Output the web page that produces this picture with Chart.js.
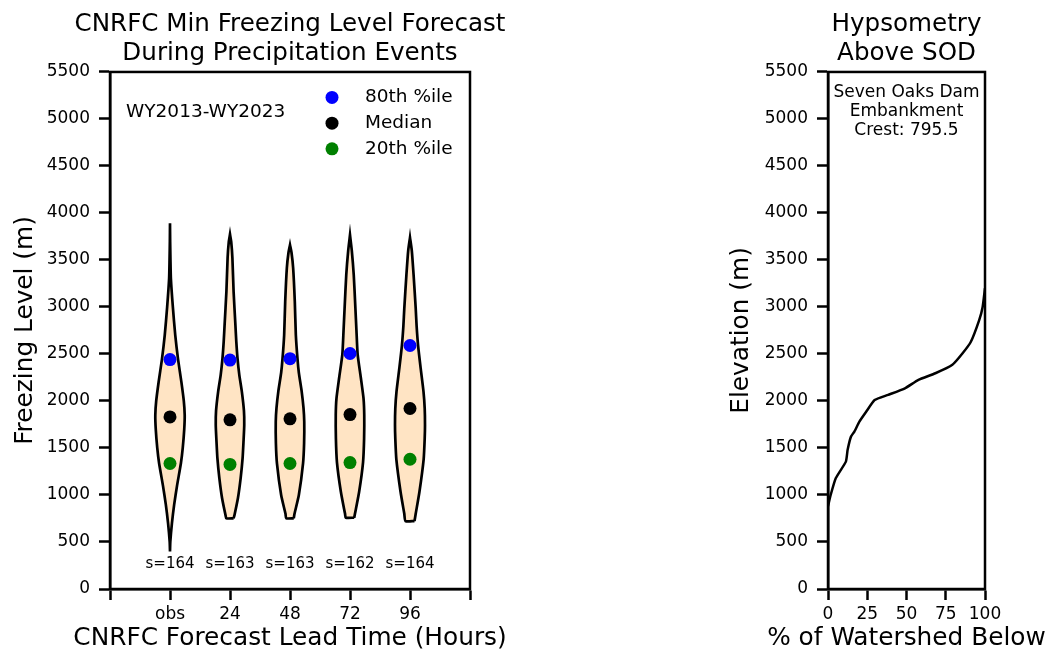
<!DOCTYPE html>
<html>
<head>
<meta charset="utf-8">
<script src="https://cdn.jsdelivr.net/npm/chart.js@4"></script>
<style>
body { margin: 0; overflow: hidden; background: #fff; }
canvas { position: absolute; top: 0; }
#freezeChart { left: 0; }
#hypsoChart { left: 715px; }
</style>
</head>
<body>
<canvas id="freezeChart" width="580" height="653"></canvas>
<canvas id="hypsoChart" width="383" height="653"></canvas>
<script>
const leadTimes = ['obs', '24', '48', '72', '96'];
const sampleSizes = [164, 163, 163, 162, 164];
const pct80 = [2440, 2435, 2450, 2505, 2590];
const medians = [1830, 1800, 1810, 1855, 1920];
const pct20 = [1335, 1325, 1335, 1345, 1380];

// violin outlines: elevation levels (m) and relative density at each level
const violinLevels = [
  [400, 500, 700, 900, 1100, 1340, 1500, 1700, 1850, 2000, 2200, 2440, 2700, 3000, 3300, 3500, 3700, 3890],
  [752, 787, 968, 1180, 1393, 1567, 1745, 1894, 2099, 2277, 2457, 2631, 2809, 3163, 3521, 3695, 3773],
  [752, 800, 1000, 1337, 1550, 1780, 1926, 2100, 2300, 2447, 2700, 3057, 3415, 3580, 3660],
  [759, 800, 1035, 1348, 1600, 1850, 2030, 2250, 2497, 2750, 2986, 3340, 3600, 3766],
  [723, 800, 1035, 1380, 1600, 1745, 1922, 2100, 2350, 2589, 2800, 2986, 3340, 3600, 3738]
];
const violinDensity = [
  [0, 0.02, 0.13, 0.28, 0.47, 0.73, 0.85, 0.95, 0.98, 0.92, 0.76, 0.54, 0.35, 0.19, 0.06, 0.03, 0.01, 0],
  [0.24, 0.30, 0.53, 0.71, 0.84, 0.90, 0.95, 0.93, 0.79, 0.62, 0.50, 0.42, 0.36, 0.24, 0.16, 0.08, 0],
  [0.25, 0.30, 0.59, 0.87, 0.94, 0.95, 0.90, 0.78, 0.59, 0.50, 0.39, 0.32, 0.21, 0.10, 0],
  [0.28, 0.33, 0.61, 0.87, 0.94, 0.95, 0.90, 0.72, 0.51, 0.43, 0.36, 0.25, 0.12, 0],
  [0.30, 0.38, 0.63, 0.91, 0.98, 1.0, 0.98, 0.90, 0.71, 0.54, 0.44, 0.38, 0.24, 0.12, 0]
];

// hypsometric curve above Seven Oaks Dam
const hypsoPct = [0, 1.7, 5, 11.4, 12.5, 14.6, 16.8, 20, 24.3, 29.7, 38.3, 49, 57.6, 68.4, 79.2, 85.6, 91, 96.3, 98.5, 100];
const hypsoElev = [880, 1000, 1180, 1355, 1480, 1620, 1675, 1780, 1885, 2010, 2065, 2135, 2225, 2295, 2385, 2505, 2630, 2860, 3000, 3200];

const elevTicks = { min: 0, max: 5500, step: 500 };

Chart.defaults.font.family = '"DejaVu Sans", sans-serif';
Chart.defaults.color = '#000';

const HALF_WIDTH = 0.25;

function violinOutline(i) {
  const pos = i + 1;
  const lv = violinLevels[i], d = violinDensity[i];
  const right = lv.map((y, k) => ({ x: pos + d[k] * HALF_WIDTH, y: y }));
  const left = lv.map((y, k) => ({ x: pos - d[k] * HALF_WIDTH, y: y })).reverse();
  return right.concat(left, [right[0]]);
}

function dots(label, values, color) {
  return {
    label: label,
    data: values.map((v, i) => ({ x: i + 1, y: v })),
    showLine: false,
    pointRadius: 6.5,
    pointHoverRadius: 6.5,
    pointBackgroundColor: color,
    pointBorderWidth: 0,
    borderColor: color,
    order: 0
  };
}

const frame = {
  id: 'frame',
  afterDatasetsDraw(chart) {
    const { ctx, chartArea: a } = chart;
    ctx.save();
    ctx.lineWidth = 2.5;
    ctx.strokeStyle = '#000';
    ctx.strokeRect(a.left, a.top, a.right - a.left, a.bottom - a.top);
    ctx.restore();
  }
};

// bottom axis title drawn by hand so Chart.js does not squeeze it to the plot width
function xTitle(text) {
  return {
    id: 'xTitle',
    afterDraw(chart) {
      const { ctx, chartArea: a } = chart;
      ctx.save();
      ctx.font = '24.8px "DejaVu Sans"';
      ctx.fillStyle = '#000';
      ctx.textAlign = 'center';
      ctx.textBaseline = 'middle';
      ctx.fillText(text, (a.left + a.right) / 2, chart.height - 14.4);
      ctx.restore();
    }
  };
}

function axisStyle(extra) {
  return Object.assign({
    type: 'linear',
    grid: { drawOnChartArea: false, drawTicks: true, tickLength: 11, tickWidth: 2.5, tickColor: '#000' },
    border: { display: true, color: '#000', width: 2.5 },
  }, extra);
}

function yAxis(text, width, titlePad) {
  return axisStyle({
    min: elevTicks.min,
    max: elevTicks.max,
    ticks: { stepSize: elevTicks.step, autoSkip: false, padding: 9, font: { size: 17 }, callback: v => String(v) },
    title: { display: true, text: text, font: { size: 24.8 }, padding: { top: titlePad, bottom: 0 } },
    afterFit: s => { s.width = width; }
  });
}

// empty right-hand box so the title stays centred over the plot
function spacer(width) {
  return {
    type: 'linear', position: 'right', display: true, min: 0, max: 1,
    ticks: { display: false }, grid: { display: false }, border: { display: false },
    afterFit: s => { s.width = width; }
  };
}

function titleOpts(lines) {
  return {
    display: true,
    text: lines,
    font: { size: 24.6, weight: 'normal', lineHeight: 1.17 },
    padding: { top: 10, bottom: 4.4 }
  };
}

const freezeNotes = {
  id: 'freezeNotes',
  afterDatasetsDraw(chart) {
    const { ctx, chartArea: a, scales: { x, y } } = chart;
    ctx.save();
    ctx.textBaseline = 'middle';
    ctx.textAlign = 'left';
    ctx.fillStyle = '#000';
    ctx.font = '18.5px "DejaVu Sans"';
    ctx.fillText('WY2013-WY2023', a.left + 16, a.top + 40);
    chart.data.datasets.filter(ds => ds.showLine === false).forEach((ds, k) => {
      const cy = a.top + 25.5 + k * 25.7;
      ctx.fillStyle = ds.pointBackgroundColor;
      ctx.beginPath();
      ctx.arc(a.left + 222, cy, 6.5, 0, Math.PI * 2);
      ctx.fill();
      ctx.fillStyle = '#000';
      ctx.fillText(ds.label, a.left + 255, cy);
    });
    ctx.font = '15px "DejaVu Sans"';
    ctx.textAlign = 'center';
    sampleSizes.forEach((n, i) => {
      ctx.fillText('s=' + n, x.getPixelForValue(i + 1), y.getPixelForValue(266));
    });
    ctx.restore();
  }
};

new Chart(document.getElementById('freezeChart'), {
  type: 'line',
  data: {
    datasets: [
      dots('80th %ile', pct80, '#0000ff'),
      dots('Median', medians, '#000000'),
      dots('20th %ile', pct20, '#008000'),
      ...leadTimes.map((t, i) => ({
        label: t,
        data: violinOutline(i),
        borderColor: '#000',
        borderWidth: 2.7,
        backgroundColor: '#ffe4c4',
        fill: 'shape',
        pointRadius: 0,
        tension: 0.2,
        order: 1
      }))
    ]
  },
  options: {
    responsive: false,
    animation: false,
    plugins: {
      legend: { display: false },
      tooltip: { enabled: false },
      title: titleOpts(['CNRFC Min Freezing Level Forecast', 'During Precipitation Events'])
    },
    scales: {
      x: axisStyle({
        min: 0,
        max: 6,
        ticks: {
          stepSize: 1, autoSkip: false, maxRotation: 0, padding: 4, font: { size: 17 },
          callback: v => leadTimes[v - 1] || ''
        },
        afterFit: s => { s.height = 64; }
      }),
      y: yAxis('Freezing Level (m)', 110, 10.6),
      pad: spacer(110)
    }
  },
  plugins: [frame, freezeNotes, xTitle('CNRFC Forecast Lead Time (Hours)')]
});

const hypsoNotes = {
  id: 'hypsoNotes',
  afterDatasetsDraw(chart) {
    const { ctx, chartArea: a, scales: { x } } = chart;
    ctx.save();
    ctx.textBaseline = 'middle';
    ctx.textAlign = 'center';
    ctx.fillStyle = '#000';
    ctx.font = '17px "DejaVu Sans"';
    ['Seven Oaks Dam', 'Embankment', 'Crest: 795.5'].forEach((line, k) => {
      ctx.fillText(line, x.getPixelForValue(50), a.top + 20.3 + k * 19.4);
    });
    ctx.restore();
  }
};

new Chart(document.getElementById('hypsoChart'), {
  type: 'line',
  data: {
    datasets: [{
      label: 'Hypsometry',
      data: hypsoPct.map((p, i) => ({ x: p, y: hypsoElev[i] })),
      borderColor: '#000',
      borderWidth: 2.5,
      pointRadius: 0,
      fill: false,
      tension: 0.15
    }]
  },
  options: {
    responsive: false,
    animation: false,
    plugins: {
      legend: { display: false },
      tooltip: { enabled: false },
      title: titleOpts(['Hypsometry', 'Above SOD'])
    },
    scales: {
      x: axisStyle({
        min: 0,
        max: 100,
        ticks: { stepSize: 25, autoSkip: false, maxRotation: 0, padding: 4, font: { size: 17 }, callback: v => String(v) },
        afterFit: s => { s.height = 64; }
      }),
      y: yAxis('Elevation (m)', 113, 11.6),
      pad: spacer(113)
    }
  },
  plugins: [frame, hypsoNotes, xTitle('% of Watershed Below')]
});
</script>
</body>
</html>
